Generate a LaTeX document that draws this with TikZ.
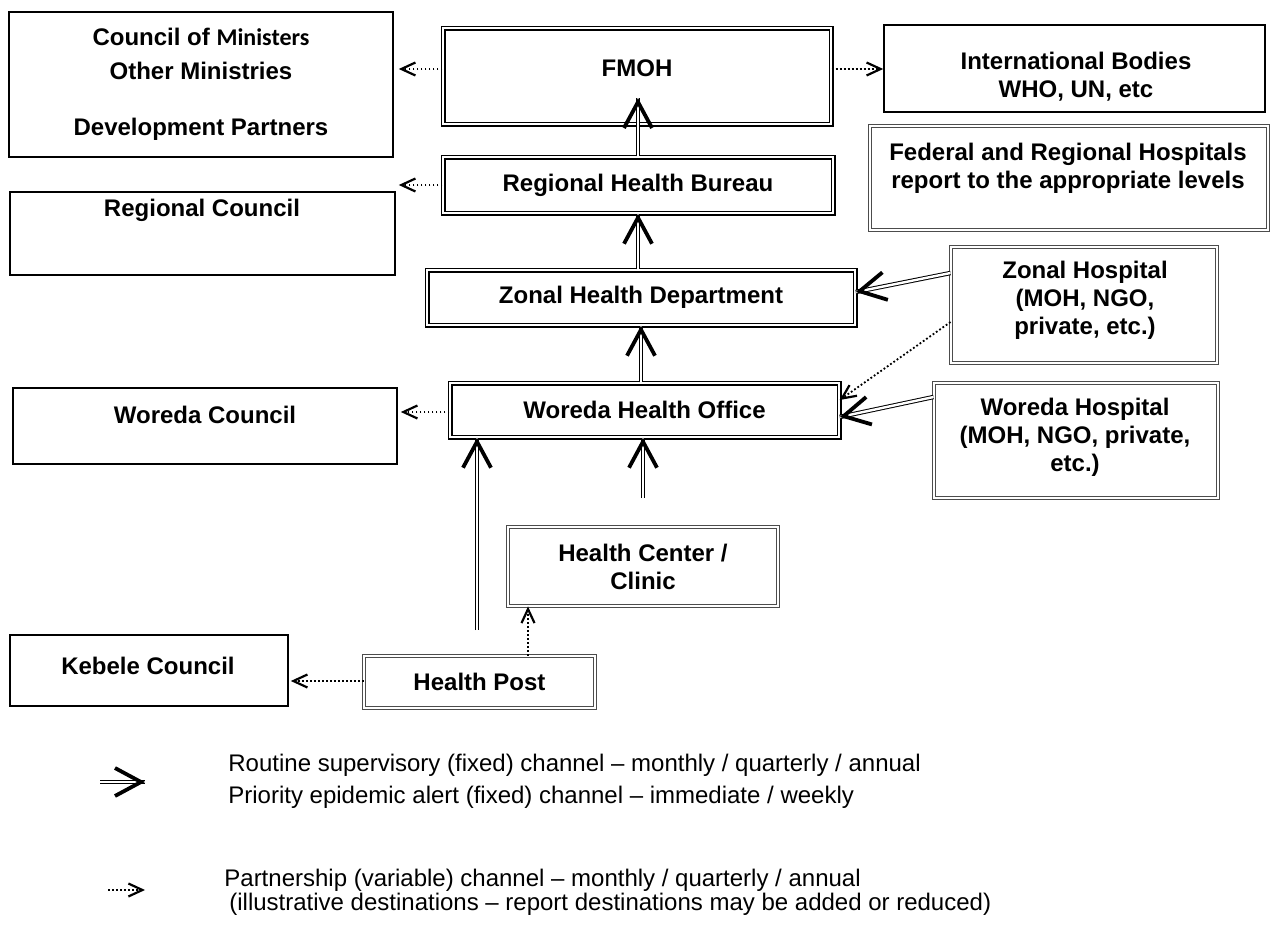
\documentclass[tikz,border=0pt]{standalone}
\usepackage{fontspec}
\setmainfont{Liberation Sans}
\newfontfamily\calib{Carlito}
\usetikzlibrary{arrows.meta,calc}
\begin{document}
\begin{tikzpicture}[x=0.5pt,y=-0.5pt,
  box/.style={draw, line width=0.8pt, inner sep=0pt, align=center, font=\bfseries\fontsize{12}{14}\selectfont},
  hbox/.style={box, line width=0.7pt, double, double distance=1.1pt},
  tbox/.style={box, draw=black!70, line width=0.45pt, double, double distance=0.8pt},
  txt/.style={inner sep=0pt, align=center, font=\bfseries\fontsize{12}{14}\selectfont},
  legtxt/.style={inner sep=0pt, anchor=west, font=\fontsize{12}{14}\selectfont},
  dshaft/.style={draw, line width=0.5pt, double, double distance=1.2pt},
  bighead/.style={-{Straight Barb[length=13pt,width=14pt,line width=1.9pt]}},
  dotarrow/.style={line width=0.9pt, dash pattern=on 0.9pt off 1.1pt,
     -{Straight Barb[length=7pt,width=6.5pt,line width=1.1pt]}}
]
\useasboundingbox (0,0) rectangle (1270,926);
\newcommand\dblarrow[2]{\draw[dshaft] (#1) -- (#2); \draw[bighead] ($(#2)!1pt!(#1)$) -- (#2);}

% boxes
\node[box, minimum width=192pt, minimum height=72.5pt] (council) at (201,84.5)
  {Council of {\calib Ministers}\\[3pt]Other Ministries\\[14pt]Development Partners};
\node[hbox, minimum width=194pt, minimum height=48pt] (fmoh) at (637,76) {};
\node[txt] (fmoh-t) at (637,68) {FMOH};
\node[box, minimum width=190.5pt, minimum height=43.5pt] (intl) at (1074.5,68.5) {};
\node[txt] (intl-t) at (1076,76.5) {International Bodies\\WHO, UN, etc};
\node[tbox, minimum width=199pt, minimum height=52pt] (fed) at (1069,178) {};
\node[txt] (fed-t) at (1068,168.5) {Federal and Regional Hospitals\\report to the appropriate levels};
\node[hbox, minimum width=195pt, minimum height=28pt] (rhb) at (638,185) {Regional Health Bureau};
\node[box, minimum width=192.5pt, minimum height=41.5pt] (rc) at (202.5,233.5) {};
\node[txt] (rc-t) at (202,210) {Regional Council};
\node[hbox, minimum width=214pt, minimum height=27.5pt] (zhd) at (641,297.5) {Zonal Health Department};
\node[tbox, minimum width=133pt, minimum height=58pt] (zh) at (1084,305) {};
\node[txt] (zh-t) at (1085,300) {Zonal Hospital\\(MOH, NGO,\\private, etc.)};
\node[hbox, minimum width=194.5pt, minimum height=27pt] (who) at (644.5,410) {Woreda Health Office};
\node[box, minimum width=192pt, minimum height=38pt] (wc) at (205,426) {};
\node[txt] (wc-t) at (205,415) {Woreda Council};
\node[tbox, minimum width=142pt, minimum height=57.5pt] (wh) at (1076,440.5) {};
\node[txt] (wh-t) at (1075,437) {Woreda Hospital\\(MOH, NGO, private,\\etc.)};
\node[tbox, minimum width=135pt, minimum height=39.5pt] (hc) at (643,566.5) {Health Center /\\Clinic};
\node[tbox, minimum width=115.5pt, minimum height=26pt] (hp) at (479.5,682) {Health Post};
\node[box, minimum width=139pt, minimum height=35.5pt] (kc) at (149,670.5) {};
\node[txt] (kc-t) at (148,666) {Kebele Council};

% fixed channels
\coordinate (fmoh-in) at (638,98);
\dblarrow{rhb.north -| fmoh-in}{fmoh-in}
\dblarrow{rhb.south |- zhd.north}{rhb.south}
\dblarrow{zhd.south |- who.north}{zhd.south}
\dblarrow{zh.west |- 0,273}{zhd.east |- 0,292}
\dblarrow{wh.west |- 0,397}{who.east |- 0,417}
\coordinate (hp-up) at (477,630);
\dblarrow{hp-up}{hp-up |- who.south}
\coordinate (hc-up) at (643,498);
\dblarrow{hc-up}{hc-up |- who.south}

% partnership channels
\draw[dotarrow, shorten >=2.5pt] (fmoh.west |- 0,69) -- (council.east |- 0,69);
\draw[dotarrow] (fmoh.east |- 0,69) -- (intl.west |- 0,69);
\draw[dotarrow, shorten >=1.5pt] (rhb.west) -- (rc.east |- rhb.west);
\draw[dotarrow, shorten >=1.5pt] (who.west |- 0,412) -- (wc.east |- 0,412);
\draw[dotarrow] (zh.west |- 0,322) -- (who.east |- 0,400);
\draw[dotarrow] (hp.north -| 528,0) -- (hc.south -| 528,0);
\draw[dotarrow, shorten >=1pt] (hp.west |- 0,681) -- (kc.east |- 0,681);

% legend
\coordinate (l1a) at (100,782);
\coordinate (l1b) at (145,782);
\dblarrow{l1a}{l1b}
\node[legtxt] (l1t) at (228,765) {Routine supervisory (fixed) channel -- monthly / quarterly / annual};
\node[legtxt] (l2t) at (228,797) {Priority epidemic alert (fixed) channel -- immediate / weekly};
\coordinate (l2a) at (108,890);
\coordinate (l2b) at (145,890);
\draw[dotarrow] (l2a) -- (l2b);
\node[legtxt] (l3t) at (224,880) {Partnership (variable) channel -- monthly / quarterly / annual};
\node[legtxt] (l4t) at (229,904) {(illustrative destinations -- report destinations may be added or reduced)};
\end{tikzpicture}
\end{document}
